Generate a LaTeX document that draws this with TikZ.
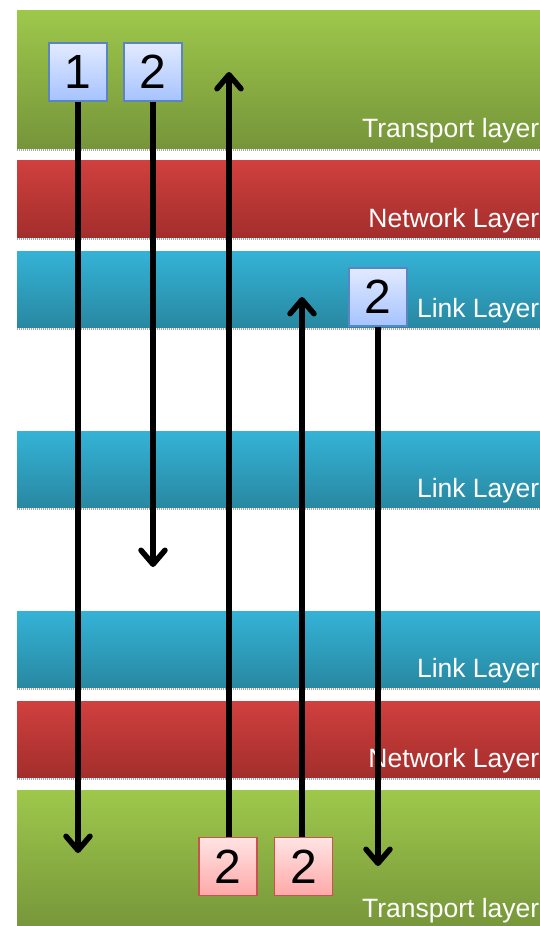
\documentclass[tikz,border=0pt]{standalone}
\usepackage{fontspec}
\setmainfont{Liberation Sans}
\usetikzlibrary{arrows.meta}
\definecolor{grtop}{HTML}{9EC84B}
\definecolor{grbot}{HTML}{76953A}
\definecolor{rdtop}{HTML}{D0403E}
\definecolor{rdbot}{HTML}{A32E2C}
\definecolor{bltop}{HTML}{34B3D7}
\definecolor{blbot}{HTML}{2888A2}
\definecolor{pkbtop}{HTML}{E2EAFF}
\definecolor{pkbbot}{HTML}{A6C3FF}
\definecolor{pkbline}{HTML}{5A85C2}
\definecolor{pkrtop}{HTML}{FFE4E4}
\definecolor{pkrbot}{HTML}{FFA8A8}
\definecolor{pkrline}{HTML}{C9514F}
\begin{document}
\begin{tikzpicture}[x=1pt,y=-1pt,
  shadowline/.style={draw=gray!70, line width=2pt, dash pattern=on 1pt off 1pt},
  layerlabel/.style={anchor=base east, text=white, inner sep=0pt, font=\fontsize{26.5}{31}\selectfont},
  pkt/.style={line width=1.5pt, minimum width=58pt, minimum height=58pt, inner sep=0pt, font=\fontsize{48}{48}\selectfont},
  pktblue/.style={pkt, draw=pkbline, top color=pkbtop, bottom color=pkbbot},
  pktred/.style={pkt, draw=pkrline, top color=pkrtop, bottom color=pkrbot},
  flow/.style={line width=5.5pt, -{Straight Barb[round,length=14pt,width=24pt]}}
]
\clip (0,0) rectangle (540,926);
\fill[white] (0,0) rectangle (540,926);
% bands
\shade[top color=grtop, bottom color=grbot] (17,10) rectangle (545,148);
\draw[shadowline] (17,150) -- (545,150);
\shade[top color=rdtop, bottom color=rdbot] (17,160) rectangle (545,237);
\draw[shadowline] (17,239) -- (545,239);
\shade[top color=bltop, bottom color=blbot] (17,251) rectangle (545,327);
\draw[shadowline] (17,329) -- (545,329);
\shade[top color=bltop, bottom color=blbot] (17,431) rectangle (545,507);
\draw[shadowline] (17,509) -- (545,509);
\shade[top color=bltop, bottom color=blbot] (17,611) rectangle (545,687);
\draw[shadowline] (17,689) -- (545,689);
\shade[top color=rdtop, bottom color=rdbot] (17,701) rectangle (545,777);
\draw[shadowline] (17,779) -- (545,779);
\shade[top color=grtop, bottom color=grbot] (17,790) rectangle (545,930);
% labels
\node[layerlabel] (lt1) at (539.5,137) {Transport layer};
\node[layerlabel] (ln1) at (539.5,227) {Network Layer};
\node[layerlabel] (ll1) at (539.5,317) {Link Layer};
\node[layerlabel] (ll2) at (539.5,497) {Link Layer};
\node[layerlabel] (ll3) at (539.5,677) {Link Layer};
\node[layerlabel] (ln2) at (539.5,767) {Network Layer};
\node[layerlabel] (lt2) at (539.5,917) {Transport layer};
% packets
\node[pktblue] (b1) at (78,72) {1};
\node[pktblue] (b2) at (153,72) {2};
\node[pktblue] (b3) at (378,297) {2};
\node[pktred] (r1) at (228,866.5) {2};
\node[pktred] (r2) at (303.5,866.5) {2};
% free ends
\coordinate (e1) at (78,853);
\coordinate (e2) at (153,567);
\coordinate (e3) at (229,72);
\coordinate (e4) at (302,297);
\coordinate (e5) at (378,866);
% arrows
\draw[flow] (b1.south) -- (e1);
\draw[flow] (b2.south) -- (e2);
\draw[flow] (r1.north -| e3) -- (e3);
\draw[flow] (r2.north -| e4) -- (e4);
\draw[flow] (b3.south) -- (e5);
\end{tikzpicture}
\end{document}
